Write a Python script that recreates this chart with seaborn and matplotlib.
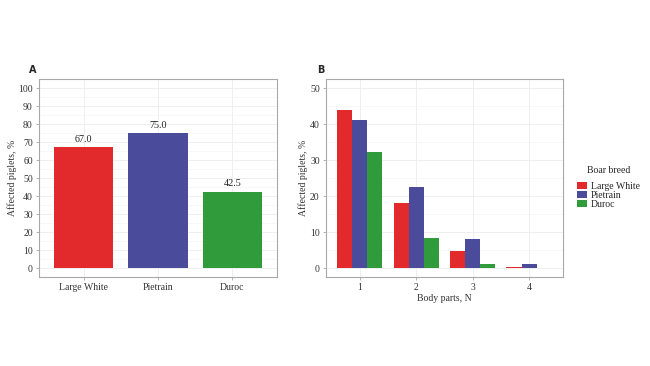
import numpy as np
import pandas as pd
import matplotlib
matplotlib.use("Agg")
import matplotlib.pyplot as plt
import seaborn as sns

# Data
breeds = ["Large White", "Pietrain", "Duroc"]
affected_pct = [67.0, 75.0, 42.5]

body_parts = ["1", "2", "3", "4"]
large_white_parts = [44.0, 18.0, 4.7, 0.3]
pietrain_parts = [41.1, 22.6, 8.2, 1.0]
duroc_parts = [32.1, 8.4, 1.1, 0.0]

palette = {"Large White": "#E2292C", "Pietrain": "#4A4C9B", "Duroc": "#2F9B3A"}

sns.set_theme(style="white")
plt.rcParams["font.family"] = ["Liberation Serif", "DejaVu Serif"]

df_a = pd.DataFrame({"breed": breeds, "pct": affected_pct})
df_b = pd.DataFrame({
    "parts": body_parts * 3,
    "breed": ["Large White"] * 4 + ["Pietrain"] * 4 + ["Duroc"] * 4,
    "pct": large_white_parts + pietrain_parts + duroc_parts,
})

fig = plt.figure(figsize=(6.5, 3.66), dpi=100)
ax1 = fig.add_axes([0.060, 0.243, 0.366, 0.541])
ax2 = fig.add_axes([0.5015, 0.243, 0.3645, 0.541])

grid_col = "#ECECEC"
border_col = "#A8A8A8"
fs = 7


def style_panel(ax, major, minor):
    ax.set_yticks(major)
    ax.set_yticks(minor, minor=True)
    ax.grid(True, which="major", color=grid_col, lw=0.6, zorder=0)
    ax.grid(True, which="minor", axis="y", color="#F4F4F4", lw=0.5, zorder=0)
    ax.set_axisbelow(True)
    for s in ax.spines.values():
        s.set_color(border_col)
        s.set_linewidth(0.8)
    ax.tick_params(axis="both", which="major", length=2.5, width=0.6,
                   color=border_col, labelsize=fs, pad=2, labelcolor="#333333")
    ax.tick_params(axis="both", which="minor", length=0)
    ax.tick_params(left=True, bottom=True)


# Panel A
sns.barplot(data=df_a, x="breed", y="pct", hue="breed", palette=palette,
            order=breeds, width=0.8, saturation=1, legend=False, ax=ax1,
            linewidth=0, edgecolor="none", zorder=2)
ax1.set_ylim(-5, 105)
ax1.set_xlim(-0.6, 2.6)
style_panel(ax1, np.arange(0, 101, 10), np.arange(5, 101, 10))
ax1.xaxis.grid(True, color=grid_col, lw=0.6)
for i, v in enumerate(affected_pct):
    ax1.text(i, v + 1.8, f"{v:.1f}", ha="center", va="bottom", fontsize=fs + 0.3, color="#222222")
ax1.set_xlabel("")
ax1.set_ylabel("Affected piglets, %", fontsize=fs, color="#333333", labelpad=1)
ax1.text(-0.042, 1.02, "A", transform=ax1.transAxes, fontsize=7, fontweight="bold",
         family="DejaVu Sans", ha="left", va="bottom")

# Panel B
sns.barplot(data=df_b, x="parts", y="pct", hue="breed", palette=palette,
            hue_order=breeds, order=body_parts, width=0.8, saturation=1, ax=ax2,
            linewidth=0, edgecolor="none", zorder=2)
ax2.set_ylim(-2.5, 52.5)
ax2.set_xlim(-0.6, 3.6)
style_panel(ax2, np.arange(0, 51, 10), np.arange(5, 51, 10))
ax2.xaxis.grid(True, color=grid_col, lw=0.6)
ax2.set_xlabel("Body parts, N", fontsize=fs, color="#333333", labelpad=1)
ax2.set_ylabel("Affected piglets, %", fontsize=fs, color="#333333", labelpad=1)
ax2.text(-0.036, 1.02, "B", transform=ax2.transAxes, fontsize=7, fontweight="bold",
         family="DejaVu Sans", ha="left", va="bottom")

handles, labels = ax2.get_legend_handles_labels()
ax2.legend(handles, labels, title="Boar breed", loc="upper left",
           bbox_to_anchor=(1.045, 0.58), frameon=False, fontsize=fs,
           title_fontsize=fs, handlelength=1.0, handleheight=0.75,
           handletextpad=0.4, labelspacing=0.0, borderaxespad=0)
ax2.get_legend()._legend_box.sep = 5

fig.savefig("out.png", dpi=100)
